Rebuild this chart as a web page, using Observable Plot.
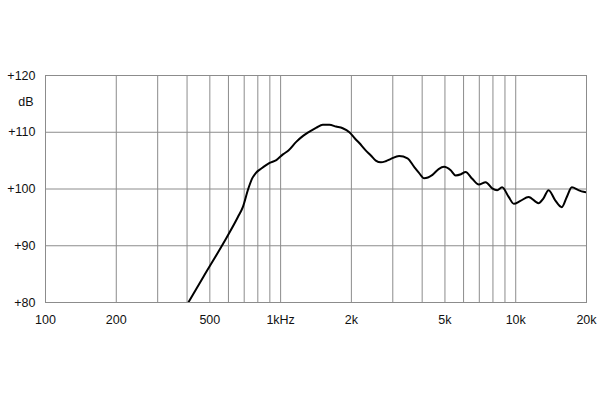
<!DOCTYPE html>
<html>
<head>
<meta charset="utf-8">
<script src="https://cdn.jsdelivr.net/npm/d3@7"></script>
<script src="https://cdn.jsdelivr.net/npm/@observablehq/plot@0.6"></script>
<style>
  body { margin: 0; background: #fff; }
  #chart svg { display: block; }
</style>
</head>
<body>
<div id="chart"></div>
<script>
// frequency response
const freq = [405, 469, 570, 659, 692, 728, 760, 784, 828, 898, 959,
  1023, 1080, 1165, 1250, 1327, 1420, 1511, 1613, 1720, 1837, 1961, 2070, 2161, 2290, 2421,
  2540, 2671, 2800, 2945, 3193, 3465, 3698, 3870, 4077, 4425, 4700, 4955, 5289, 5548, 5850,
  6119, 6530, 6967, 7451, 7943, 8340, 8750, 9333, 9812, 10467, 11342, 12503, 13100, 13795,
  14723, 15704, 16491, 17327, 18488, 19420, 20000];
const spl = [80, 84.5, 90.4, 95.1, 96.9, 100.0, 102.0, 102.8, 103.6, 104.6, 105.1,
  106.1, 106.8, 108.3, 109.4, 110.1, 110.8, 111.3, 111.3, 111.0, 110.7, 110.0, 108.9, 108.1, 106.9, 105.9,
  105.0, 104.7, 104.9, 105.3, 105.8, 105.4, 103.9, 102.9, 101.9, 102.5, 103.5, 103.9, 103.3, 102.4, 102.6,
  103.0, 101.8, 100.8, 101.2, 100.1, 99.8, 100.3, 98.6, 97.4, 97.9, 98.6, 97.5, 98.3, 99.8,
  98.0, 96.8, 98.6, 100.3, 99.8, 99.5, 99.4];

const gridFreqs = [200, 300, 400, 500, 600, 700, 800, 900, 1000, 2000, 3000, 4000, 5000, 6000, 7000, 8000, 9000, 10000];
const xTicks = [100, 200, 500, 1000, 2000, 5000, 10000, 20000];
const xTickLabels = ["100", "200", "500", "1kHz", "2k", "5k", "10k", "20k"];
const yTicks = [80, 90, 100, 110, 120];
const yTickLabels = ["+80", "+90", "+100", "+110", "+120"];
const yUnit = "dB";

const curve = freq.map((f, i) => ({f, db: spl[i]}));
const xLabels = xTicks.map((f, i) => ({f, label: xTickLabels[i]}));
const yLabels = yTicks.map((v, i) => ({v, label: yTickLabels[i]}));

const chart = Plot.plot({
  width: 600,
  height: 400,
  marginLeft: 45,
  marginRight: 14,
  marginTop: 75,
  marginBottom: 98,
  style: { fontFamily: "'Liberation Sans', Arial, sans-serif", fontSize: "12.5px", color: "#111", background: "#fff" },
  x: { type: "log", domain: [100, 20000], axis: null },
  y: { domain: [80, 120], axis: null },
  marks: [
    Plot.ruleX(gridFreqs, { stroke: "#8c8c8c", strokeWidth: 1 }),
    Plot.ruleY(yTicks, { stroke: "#8c8c8c", strokeWidth: 1 }),
    Plot.frame({ stroke: "#8c8c8c", strokeWidth: 1 }),
    Plot.line(curve, { x: "f", y: "db", stroke: "#000", strokeWidth: 2, curve: "monotone-x", clip: true }),
    Plot.text(xLabels, { x: "f", text: "label", frameAnchor: "bottom", dy: 21, fill: "#111" }),
    Plot.text(yLabels, { y: "v", text: "label", frameAnchor: "left", textAnchor: "end", dx: -10, fill: "#111" }),
    Plot.text([yUnit], { y: [115.4], text: d => d, frameAnchor: "left", textAnchor: "end", dx: -12, fill: "#111" })
  ]
});
document.getElementById("chart").append(chart);
</script>
</body>
</html>
